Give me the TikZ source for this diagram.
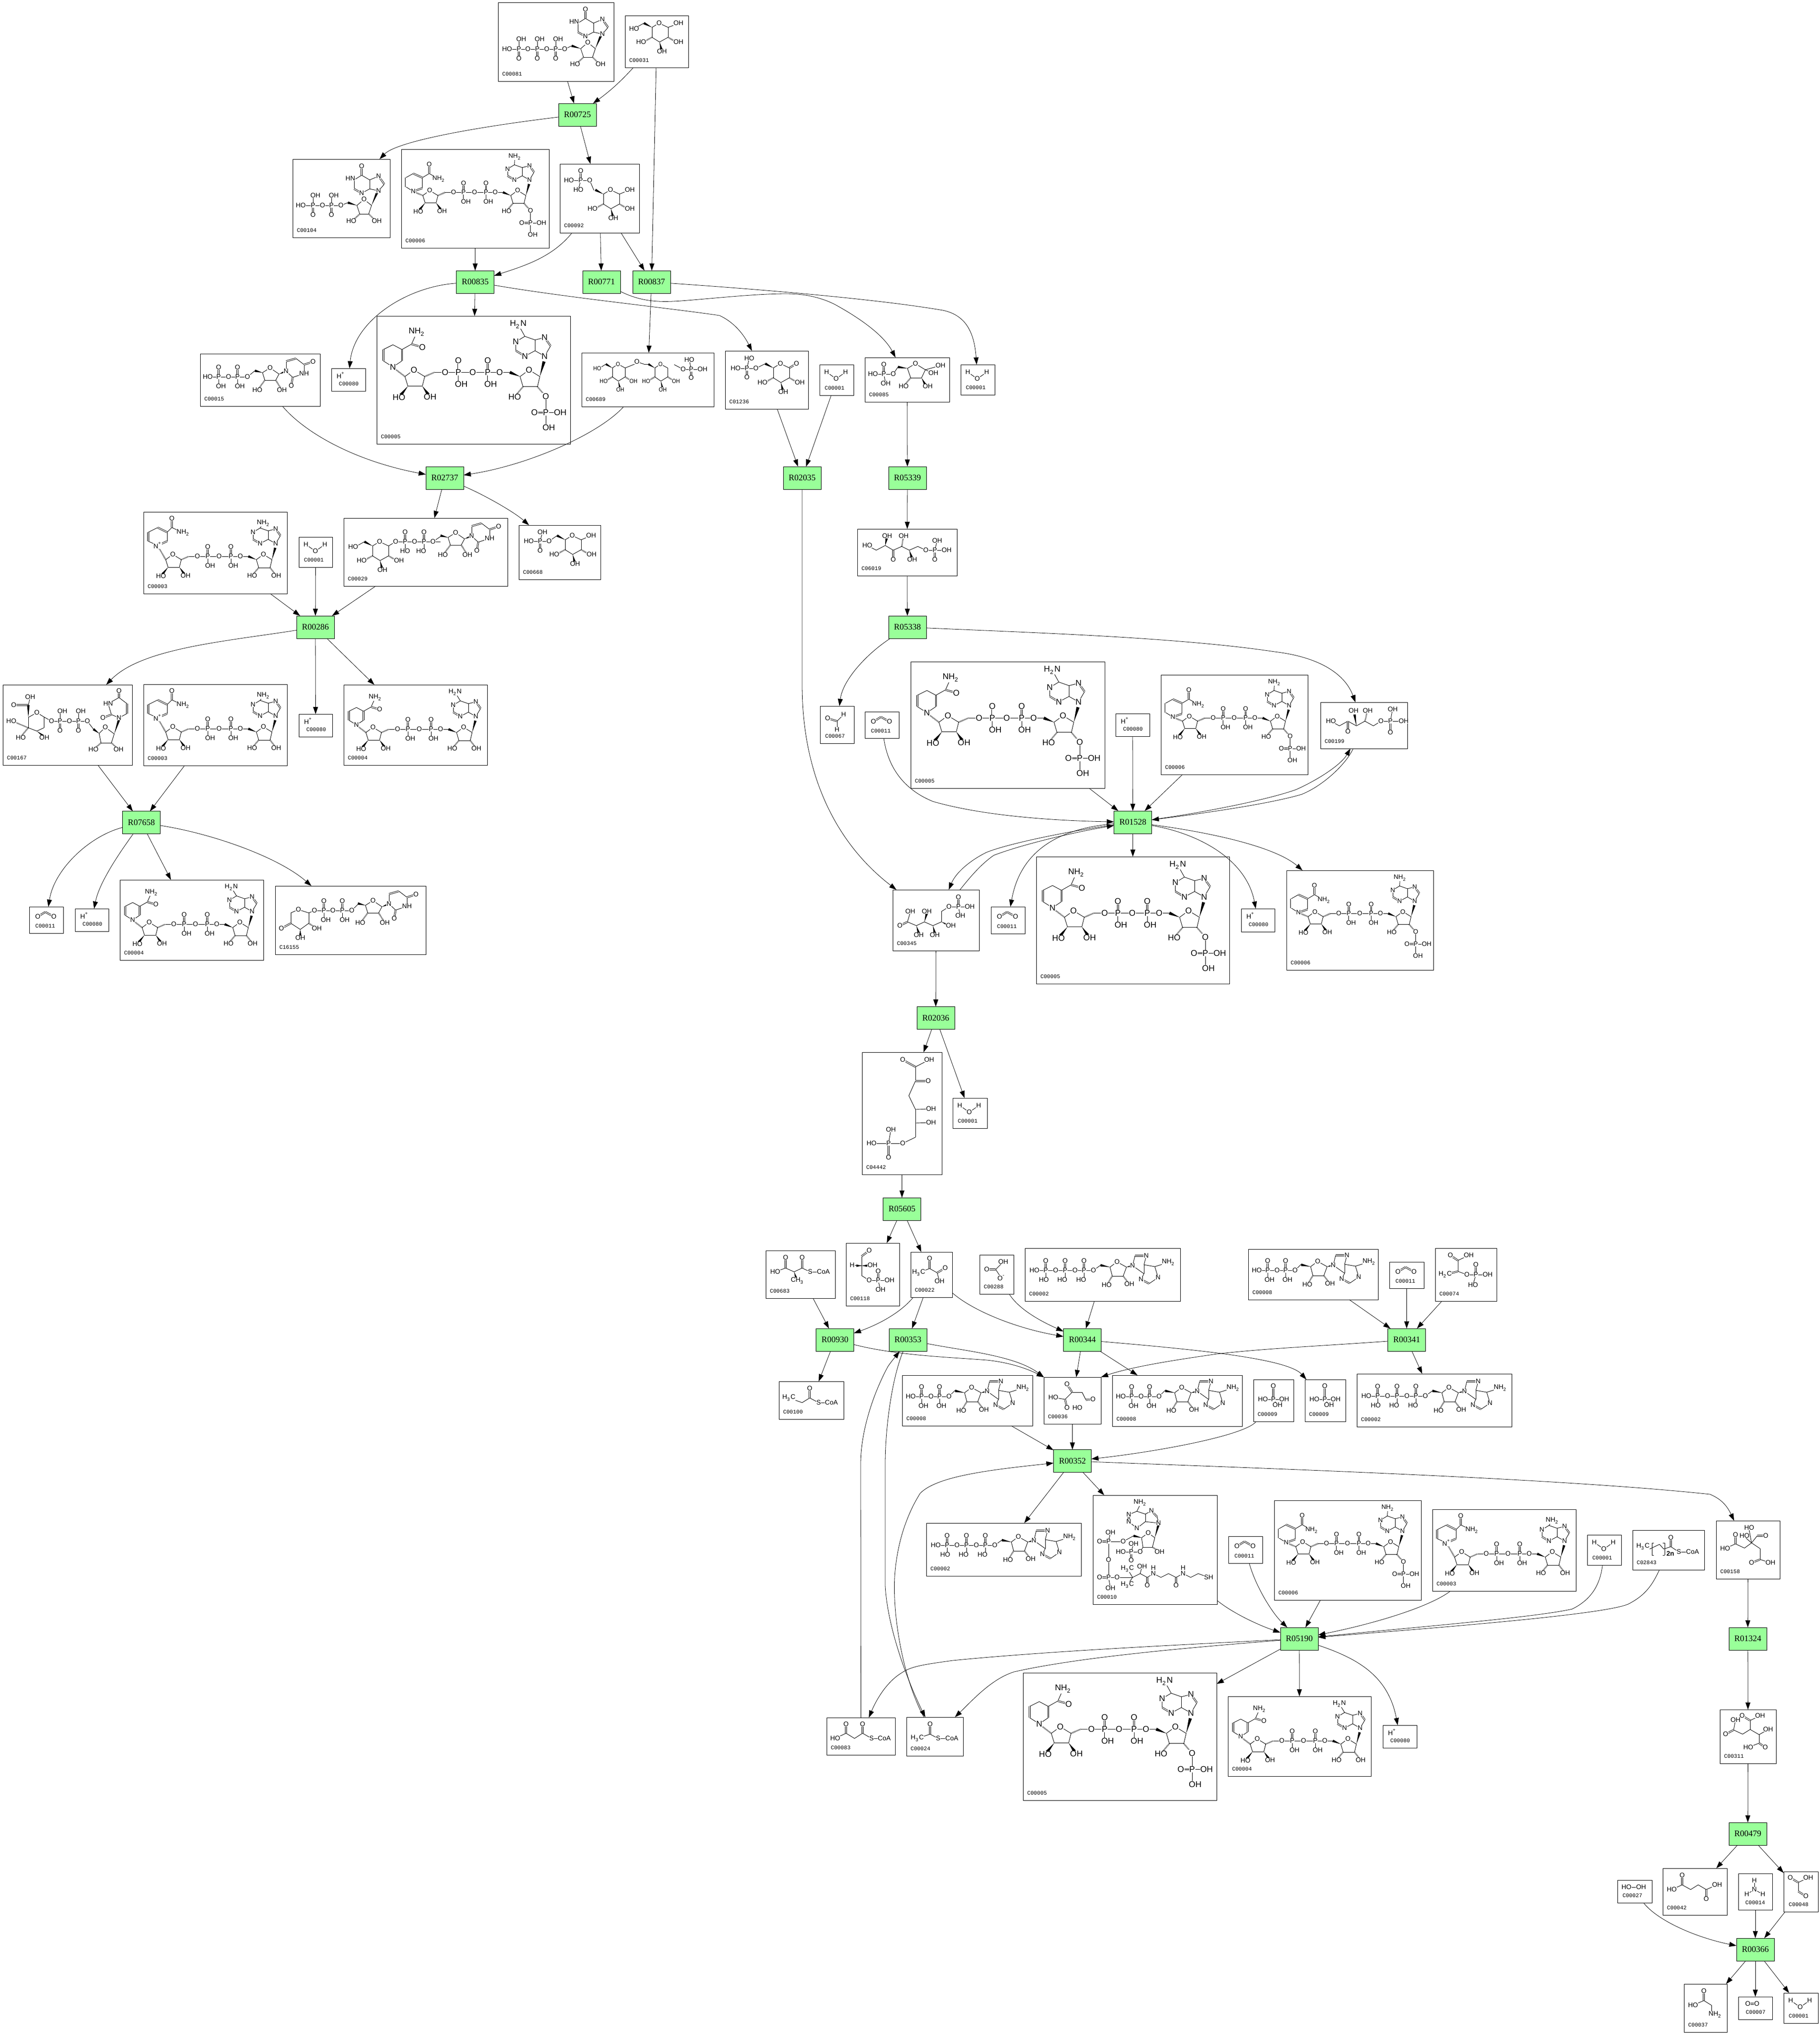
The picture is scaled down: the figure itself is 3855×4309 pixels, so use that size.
\documentclass[tikz,border=0pt]{standalone}
\usepackage{fontspec}
\setmainfont{Liberation Serif}
\setsansfont{Liberation Sans}
\setmonofont{Liberation Mono}
\usetikzlibrary{calc,arrows.meta}
\newcounter{atomn}
\tikzset{
 bondst/.style={line width=.23pt},
 atomst/.style={font=\sffamily\fontsize{3.5}{4}\selectfont,inner sep=.12pt,fill=white,transform shape},
 boxst/.style={draw=black,line width=.25pt,inner sep=0pt,outer sep=0pt},
 codest/.style={font=\ttfamily\fontsize{2.9}{3.2}\selectfont,inner sep=0pt,anchor=west},
 rxnst/.style={draw=black,fill=rxgreen,line width=.25pt,inner sep=0pt,outer sep=0pt,minimum width=20pt,minimum height=12pt,font=\rmfamily\fontsize{4.5}{5}\selectfont},
 edgest/.style={draw=black,line width=.2pt,-{Triangle[length=3.8pt,width=2.6pt]}}
}
\definecolor{rxgreen}{RGB}{153,255,153}
\newcommand\bnd[1]{\foreach \xa/\ya/\xb/\yb in {#1}{\draw[bondst] (\xa,\ya)--(\xb,\yb);}}
\newcommand\dbl[1]{\foreach \xa/\ya/\xb/\yb in {#1}{\draw[bondst,double,double distance=.42pt] (\xa,\ya)--(\xb,\yb);}}
\newcommand\wdg[1]{\foreach \xa/\ya/\xb/\yb in {#1}{\fill ($(\xb,\yb)!.65pt!90:(\xa,\ya)$) -- (\xa,\ya) -- ($(\xb,\yb)!.65pt!-90:(\xa,\ya)$) -- cycle;}}
\newcommand\hsh[1]{\foreach \xa/\ya/\xb/\yb in {#1}{\draw[bondst,line width=.7pt,dash pattern=on .2pt off .35pt] (\xa,\ya)--(\xb,\yb);}}
\newcommand\atm[1]{\foreach \xa/\ya/\tx in {#1}{\stepcounter{atomn}\node[atomst] (at\theatomn) at (\xa,\ya) {\tx};}}
\newcommand\NHb{NH\textsubscript{2}}
\newcommand\HbN{H\textsubscript{2}N}
\newcommand\HhC{H\textsubscript{3}C}
\newcommand\ChH{CH\textsubscript{3}}
% phosphate units
\newcommand\PA[4]{\begin{scope}[shift={(#1,#2)}]\dbl{0/0/0/-19}\bnd{0/0/0/19}\atm{0/0/P,0/-20/O,#4/20/#3}\end{scope}}
\newcommand\PB[2]{\begin{scope}[shift={(#1,#2)}]\dbl{0/0/0/19}\bnd{0/0/0/-19}\atm{0/0/P,0/20/O,5/-21/OH}\end{scope}}
% adenosine with base on the right, origin at ring O
\newcommand\adoR[2]{\begin{scope}[shift={(#1,#2)}]
\bnd{0/0/-15/11,-15/11/-10/30,-10/30/13/30,13/30/20/11,20/11/0/0,33/8/38/-13,62/-13/57/6,57/6/57/25,57/25/33/8,57/25/51/37,68/46/87/33,87/33/80/10,80/10/57/6,80/10/109/1}
\dbl{38/-13/62/-13,51/37/68/46}
\wdg{20/11/33/8,-15/11/-35/7}
\hsh{-10/30/-22/49,13/30/26/47}
\atm{0/0/O,33/8/N,62/-13/N,51/37/N,87/33/N,109/1/\NHb,-22/49/HO,26/47/OH}\end{scope}}
% inosine, base upward, origin at ring O
\newcommand\inoUp[2]{\begin{scope}[shift={(#1,#2)}]
\bnd{0/0/-15/13,-15/13/-9/31,-9/31/10/31,10/31/16/13,16/13/0/0,31/-18/12/-22,12/-22/12/-41,12/-41/-5/-51,-5/-51/-21/-41,-21/-41/-21/-22,-5/-13/12/-22,12/-41/31/-49,43/-32/31/-18}
\dbl{-5/-51/-5/-70,-21/-22/-5/-13,31/-49/43/-32}
\wdg{16/13/28/-15,-15/13/-34/7}
\hsh{-9/31/-25/46,10/31/25/46}
\atm{0/0/O,-5/-70/O,-29/-44/HN,-5/-13/N,31/-49/N,31/-18/N,-27/46/HO,27/46/OH}\end{scope}}
% uridine, origin at ring O
\newcommand\urid[2]{\begin{scope}[shift={(#1,#2)}]
\bnd{0/0/-16/10,-16/10/-11/26,-11/26/12/26,12/26/19/13,19/13/0/0,34/7/48/20,48/20/72/12,72/12/72/-7,72/-7/55/-20,34/-14/34/7}
\dbl{55/-20/34/-14,48/20/45/37,72/-7/91/-13}
\wdg{19/13/34/7,-16/10/-32/6}
\hsh{-11/26/-25/45,12/26/24/45}
\atm{0/0/O,34/7/N,72/12/NH,45/38/O,91/-13/O,-27/47/HO,25/47/OH}\end{scope}}
% pyranose, origin at ring O
\newcommand\pyrcore{\bnd{0/0/-15/9,-15/9/-15/30,-15/30/1/40,1/40/19/30,19/30/19/9,19/9/0/0}
\wdg{-15/9/-32/0,1/40/5/56}
\hsh{-15/30/-30/38,19/30/33/38}
\atm{0/0/O,-38/40/HO,6/60/OH,41/40/OH}}
% NAD core
\newcommand\nadcommon[3]{\bnd{47/101/62/90,62/90/80/101,80/101/76/117,76/117/52/117,52/117/47/101,96/94/205/94,205/94/222/94,239/101/254/90,254/90/272/101,272/101/268/118,268/118/244/118,244/118/239/101,280/67/290/50,280/36/264/40,264/40/264/58,264/58/280/67,264/58/247/67,232/58/232/43,232/43/247/34,247/34/264/40,247/34/#1/#2}
\dbl{290/50/280/36,247/67/232/58}
\wdg{272/101/279/76,239/101/222/94,52/117/40/132,76/117/86/131}
\hsh{80/101/96/94,244/118/232/132}
\PA{136}{94}{OH}{5}\PA{185}{94}{OH}{5}
\atm{62/90/O,254/90/O,37/136/HO,89/135/OH,114/94/O,160/94/O,205/94/O,230/135/HO,280/67/N,280/36/N,247/67/N,232/43/N,#1/#2/#3}}
\newcommand\ohB{\hsh{268/118/279/132}\atm{281/135/OH}}
\newcommand\phosB{\hsh{268/118/280/132}\bnd{282/134/282/185,282/161/306/161}\dbl{263/161/282/161}\atm{282/134/O,282/161/P,263/161/O,306/161/OH,287/186/OH}}
\newcommand\nicP{\bnd{10/43/30/33,50/43/50/62,30/71/10/62,50/43/60/33,60/33/84/44}\dbl{10/43/10/62,30/33/50/43,50/62/30/71,60/33/60/14}\hsh{47/101/32/75}\atm{30/71/N\textsuperscript{+},60/14/O,84/44/\NHb}}
\newcommand\nicH{\bnd{11/56/27/48,27/48/42/56,42/75/27/85,27/85/11/75,42/56/58/47,58/47/67/27}\dbl{11/56/11/75,42/56/42/75,58/47/76/52}\hsh{47/101/30/88}\atm{27/85/N,76/52/O,67/27/\NHb}}
\newcommand\nicB{\bnd{10/62/26/53,46/62/46/85,26/92/10/82,46/62/61/53,61/53/82/65}\dbl{10/62/10/82,26/53/46/62,46/85/26/92,61/53/61/33}\hsh{47/101/30/94}\atm{26/92/N,61/33/O,82/65/\NHb}}
\newcommand\mNADp{\nadcommon{254}{24}{\NHb}\ohB\nicP}
\newcommand\mNADH{\nadcommon{236}{16}{\HbN}\ohB\nicH}
\newcommand\mNADPH{\begin{scope}[scale=1.27]\nadcommon{236}{14}{\HbN}\phosB\nicH\end{scope}}
\newcommand\mNADPp{\begin{scope}[xscale=.97,yscale=.97]\nadcommon{248}{16}{\NHb}\phosB\nicB\end{scope}}
\newcommand\mATP{\bnd{20/47/145/47,145/47/160/36}\PA{44}{47}{HO}{-4}\PA{85}{47}{HO}{-6}\PA{125}{47}{HO}{-6}\atm{20/47/HO,65/47/O,106/47/O,145/47/O}\adoR{195}{29}}
\newcommand\mADP{\bnd{18/45/99/45,99/45/112/32}\PA{41}{45}{OH}{4}\PA{79}{45}{OH}{4}\atm{18/45/HO,61/45/O,99/45/O}\adoR{147}{26}}
\newcommand\mWater{\bnd{15/16/35/30,35/30/55/16}\atm{15/16/H,35/30/O,55/16/H}}
\newcommand\mHp{\atm{20/15/H\textsuperscript{+}}}
\newcommand\mCO{\dbl{18/21/34/11,34/11/52/21}\atm{18/21/O,52/21/O}}
\newcommand\mPi{\bnd{20/42/42/42,42/42/65/42,42/42/51/54}\dbl{42/14/42/42}\atm{42/14/O,42/42/P,20/42/HO,65/42/OH,51/54/OH}}
% composite box: name x1 y1 x2 y2 code xoff body
\newcommand\cb[8]{\node[boxst,minimum width={(#4-#2)*.25pt},minimum height={(#5-#3)*.25pt}] (#1) at ({(#2+#4)/2},{(#3+#5)/2}) {};
\begin{scope}[shift={(#1.north west)}]#8\end{scope}
\node[codest] (#1code) at (#2+#7,#5-15) {#6};}
\newcommand\rx[4]{\node[rxnst] (#1) at (#2,#3) {#4};}
\newcommand\eg[2]{\draw[edgest] (#1)--(#2);}
\begin{document}
\begin{tikzpicture}[x=.25pt,y=-.25pt]
\useasboundingbox (0,0) rectangle (3855,4309);
\fill[white] (0,0) rectangle (3855,4309);
% --- compounds
\cb{cA}{1055}{5}{1300}{172}{C00081}{8}{\bnd{19/99/141/99,141/99/156/92}\PB{44}{99}\PB{83}{99}\PB{122}{99}\atm{19/99/HO,63/99/O,103/99/O,141/99/O}\inoUp{190}{85}}
\cb{cB}{1324}{33}{1458}{143}{C00031}{8}{\begin{scope}[shift={(72,16)}]\bnd{19/9/38/2,-32/0/-50/10}\pyrcore\atm{-53/12/HO,41/0/OH}\end{scope}}
\cb{cC}{620}{337}{826}{503}{C00104}{8}{\bnd{17/98/102/98,102/98/117/92}\PB{43}{98}\PB{82}{98}\atm{17/98/HO,63/98/O,102/98/O}\inoUp{151}{85}}
\cb{cD}{850}{316}{1163}{525}{C00006}{8}{\mNADPp}
\cb{cE}{1186}{347}{1354}{493}{C00092}{8}{\bnd{63/35/72/56,19/35/63/35,39/55/44/35}\dbl{44/15/44/35}\atm{44/15/O,44/35/P,19/35/HO,63/35/O,39/55/HO}\begin{scope}[shift={(107,55)}]\bnd{19/9/36/2}\pyrcore\atm{41/0/OH}\end{scope}}
\cb{cF}{798}{669}{1208}{940}{C00005}{8}{\mNADPH}
\cb{cG}{702}{780}{774}{828}{C00080}{15}{\mHp}
\cb{cH}{424}{749}{678}{860}{C00015}{8}{\bnd{16/49/100/49,100/49/116/36}\PA{39}{49}{OH}{5}\PA{79}{49}{OH}{5}\atm{16/49/HO,60/49/O,100/49/O}\urid{148}{30}}
\cb{cI}{1232}{747}{1512}{861}{C00689}{8}{\begin{scope}[shift={(77,24)},xscale=.8,yscale=.9]\bnd{19/9/44/0}\pyrcore\bnd{-32/0/-50/10}\atm{-55/10/HO}\end{scope}\begin{scope}[shift={(167,24)},xscale=.8,yscale=.9]\bnd{-44/0/-32/0}\pyrcore\end{scope}\bnd{132/24/117/19,196/25/215/35,215/35/256/35,232/35/228/15}\dbl{232/35/232/53}\atm{117/19/O,215/35/O,232/35/P,228/15/HO,256/35/OH,232/53/O}}
\cb{cJ}{1536}{743}{1712}{866}{C01236}{8}{\begin{scope}[shift={(117,27)}]\dbl{19/9/34/0}\pyrcore\atm{34/0/O}\end{scope}\bnd{85/27/65/37,22/37/65/37,46/37/51/16}\dbl{46/37/46/56}\atm{46/37/P,22/37/HO,65/37/O,51/16/HO,46/56/O}}
\cb{cK}{1736}{772}{1808}{837}{C00001}{10}{\mWater}
\cb{cL}{1832}{757}{2011}{851}{C00085}{8}{\bnd{107/13/128/26,128/26/120/43,120/43/97/43,97/43/90/23,90/23/107/13,70/20/60/35,60/35/17/35,40/35/44/55,128/26/145/33,128/26/160/17}\dbl{40/15/40/35}\wdg{90/23/70/20,120/43/128/58}\hsh{97/43/84/58}\atm{107/13/O,60/35/O,40/35/P,17/35/HO,40/15/O,44/55/OH,82/61/HO,133/61/OH,145/33/OH,160/17/OH}}
\cb{cM}{2035}{772}{2107}{836}{C00001}{10}{\mWater}
\cb{cN}{304}{1084}{608}{1257}{C00003}{8}{\mNADp}
\cb{cO}{633}{1137}{704}{1201}{C00001}{10}{\mWater}
\cb{cP}{728}{1097}{1075}{1241}{C00029}{8}{\begin{scope}[shift={(76,50)}]\bnd{19/9/34/0,-32/0/-50/10}\pyrcore\atm{-56/11/HO}\end{scope}\bnd{110/50/205/50,189/50/205/39}\PA{130}{50}{HO}{0}\PA{170}{50}{HO}{-6}\atm{110/50/O,150/50/O,189/50/O}\urid{237}{31}}
\cb{cQ}{1099}{1112}{1272}{1227}{C00668}{8}{\begin{scope}[shift={(113,22)}]\bnd{19/9/40/0}\pyrcore\atm{40/0/OH}\end{scope}\bnd{81/22/64/34,21/34/64/34,45/34/50/15}\dbl{45/34/45/54}\atm{45/34/P,21/34/HO,64/34/O,50/15/OH,45/54/O}}
\cb{cR}{1816}{1120}{2027}{1219}{C06019}{8}{\bnd{21/35/40/45,40/45/59/35,59/35/76/45,76/45/94/37,94/37/110/45,110/45/128/37,128/37/145/45,145/45/189/45,164/45/169/25}\dbl{76/45/76/65,164/45/164/65}\wdg{59/35/62/20,110/45/115/60}\hsh{94/37/97/20}\atm{21/35/HO,63/15/OH,76/65/O,98/15/OH,116/65/OH,145/45/O,164/45/P,169/25/OH,189/45/OH,164/65/O}}
\cb{cS}{6}{1450}{280}{1620}{C00167}{8}{\bnd{72/59/54/69,54/69/54/91,54/91/72/98,72/98/87/91,87/91/87/68,87/68/72/59,54/43/58/26,103/77/87/68,103/77/179/77,179/77/192/94}\dbl{54/43/23/43}\wdg{54/69/54/43,204/103/192/94,72/98/88/110}\hsh{54/91/38/110,54/91/20/77}\PB{121}{77}\PB{160}{77}\atm{72/59/O,23/43/O,58/26/OH,18/77/HO,38/112/HO,88/112/OH,103/77/O,141/77/O,179/77/O}\bnd{217/90/204/103,204/103/208/123,208/123/230/123,230/123/236/104,236/104/217/90,246/70/230/63,230/63/223/40,223/40/246/27,246/27/263/40,263/61/246/70}\dbl{230/63/212/70,246/27/246/13,263/40/263/61}\wdg{236/104/246/74}\hsh{208/123/194/135,230/123/243/135}\atm{217/90/O,192/137/HO,245/137/OH,246/70/N,212/70/O,223/40/HN,246/13/O}}
\cb{cT}{304}{1449}{608}{1621}{C00003}{8}{\mNADp}
\cb{cU}{633}{1512}{704}{1560}{C00080}{15}{\mHp}
\cb{cV}{728}{1450}{1032}{1620}{C00004}{8}{\mNADH}
\cb{cW}{62}{1920}{134}{1976}{C00011}{12}{\mCO}
\cb{cX}{159}{1924}{230}{1972}{C00080}{15}{\mHp}
\cb{cY}{254}{1863}{558}{2033}{C00004}{8}{\mNADH}
\cb{cZ}{583}{1876}{902}{2021}{C16155}{8}{\bnd{49/50/33/57,33/57/33/79,33/79/53/92,53/92/71/79,71/79/71/57,71/57/49/50,71/57/83/52,83/52/162/52,162/52/176/38}\dbl{33/79/13/90}\wdg{53/92/53/106}\hsh{71/79/85/88}\PA{103}{52}{OH}{4}\PA{142}{52}{OH}{5}\atm{49/50/O,13/90/O,53/110/OH,88/90/OH,83/52/O,122/52/O,162/52/O}\urid{207}{31}}
\cb{cAa}{1737}{1495}{1809}{1574}{C00067}{10}{\dbl{16/26/36/32}\bnd{36/32/50/18,36/32/36/50}\atm{16/26/O,50/18/H,36/50/H}}
\cb{cAb}{1832}{1507}{1904}{1563}{C00011}{12}{\mCO}
\cb{cAc}{1929}{1401}{2340}{1669}{C00005}{8}{\mNADPH}
\cb{cAd}{2363}{1511}{2435}{1559}{C00080}{15}{\mHp}
\cb{cAe}{2459}{1429}{2770}{1640}{C00006}{8}{\mNADPp}
\cb{cAf}{2797}{1487}{2981}{1585}{C00199}{8}{\bnd{22/40/40/50,40/50/58/40,58/40/76/50,76/50/94/40,94/40/112/50,112/50/128/40,128/40/176/40,148/40/152/18}\dbl{58/40/58/62,148/40/148/62}\wdg{76/50/72/26}\hsh{94/40/98/24}\atm{22/40/HO,58/62/O,70/18/OH,100/18/OH,128/40/O,148/40/P,153/15/OH,176/40/OH,148/64/O}}
\cb{cAg}{1891}{1884}{2074}{2013}{C00345}{8}{\bnd{31/68/37/48,31/68/50/76,50/76/67/68,67/68/85/76,85/76/103/68,103/68/103/46,103/46/119/36,119/36/163/36,139/36/143/55}\dbl{31/68/15/76,139/36/139/16}\wdg{50/76/55/92,67/68/72/50,85/76/89/92,103/68/120/76}\atm{15/76/O,37/46/OH,55/96/OH,72/46/OH,89/96/OH,123/76/OH,119/36/O,139/36/P,139/16/O,163/36/OH,143/55/OH}}
\cb{cAh}{2099}{1920}{2171}{1977}{C00011}{12}{\mCO}
\cb{cAi}{2195}{1814}{2604}{2083}{C00005}{8}{\mNADPH}
\cb{cAj}{2629}{1924}{2700}{1973}{C00080}{15}{\mHp}
\cb{cAk}{2725}{1843}{3036}{2054}{C00006}{8}{\mNADPp}
\cb{cAl}{1826}{2228}{1995}{2487}{C04442}{8}{\bnd{113/31/142/16,113/31/113/61,113/61/99/92,99/92/113/121,113/121/146/120,113/121/113/180,113/150/146/149,113/180/86/193,86/193/20/193,56/193/61/164}\dbl{113/31/86/16,113/61/140/61,56/193/56/223}\atm{86/16/O,142/16/OH,140/61/O,146/120/OH,146/149/OH,86/193/O,56/193/P,61/164/OH,20/193/HO,56/223/O}}
\cb{cAm}{2018}{2325}{2091}{2389}{C00001}{10}{\mWater}
\cb{cAn}{1622}{2648}{1769}{2749}{C00683}{8}{\bnd{42/37/20/45,42/37/60/45,60/45/77/37,77/37/94/45,94/45/121/45}\dbl{42/37/42/15,77/37/77/15}\wdg{60/45/65/60}\atm{42/15/O,20/45/HO,77/15/O,94/45/S,122/45/CoA,67/64/\ChH}}
\cb{cAo}{1792}{2632}{1905}{2765}{C00118}{8}{\bnd{33/28/33/69,13/47/33/48,33/69/49/79,49/79/92/79,68/79/73/99}\dbl{33/28/49/16,68/79/68/60}\wdg{33/48/22/48,33/48/46/48}\atm{49/16/O,13/47/H,56/47/OH,49/79/O,68/79/P,68/60/O,92/79/OH,73/99/OH}}
\cb{cAp}{1929}{2651}{2017}{2747}{C00022}{8}{\bnd{40/35/17/44,40/35/56/44,56/44/61/62}\dbl{40/14/40/35,56/44/73/34}\atm{40/14/O,17/44/\HhC,73/34/O,61/62/OH}}
\cb{cAq}{2075}{2657}{2147}{2740}{C00288}{8}{\bnd{34/31/50/15,34/31/46/49}\dbl{15/31/34/31}\atm{15/31/O,50/15/OH,46/49/O\textsuperscript{-}}}
\cb{cAr}{2171}{2643}{2500}{2755}{C00002}{8}{\mATP}
\cb{cAs}{2644}{2645}{2919}{2752}{C00008}{8}{\mADP}
\cb{cAt}{2943}{2672}{3016}{2728}{C00011}{12}{\mCO}
\cb{cAu}{3040}{2643}{3170}{2755}{C00074}{8}{\bnd{48/26/71/15,48/49/67/56,67/56/111/56,86/56/80/78}\dbl{48/26/32/15,48/49/21/56,86/56/86/35}\bnd{48/26/48/49}\atm{32/15/O,71/15/OH,21/56/H\textsubscript{2}C,67/56/O,86/56/P,86/35/O,111/56/OH,80/78/HO}}
\cb{cAv}{1650}{2925}{1787}{3005}{C00100}{8}{\bnd{21/35/49/45,49/45/65/35,65/35/84/45,84/45/111/45}\dbl{65/35/65/15}\atm{21/35/\HhC,65/15/O,84/45/S,111/45/CoA}}
\cb{cAw}{1911}{2912}{2187}{3019}{C00008}{8}{\mADP}
\cb{cAx}{2211}{2916}{2332}{3015}{C00036}{8}{\bnd{60/32/45/47,45/47/20/43,60/32/81/32,81/32/89/48}\dbl{60/32/49/15,45/47/49/65,89/48/104/47}\atm{49/15/O,20/43/HO,49/65/O,71/65/HO,104/47/O}}
\cb{cAy}{2356}{2912}{2631}{3020}{C00008}{8}{\mADP}
\cb{cAz}{2655}{2921}{2740}{3010}{C00009}{8}{\mPi}
\cb{cBa}{2764}{2921}{2850}{3010}{C00009}{8}{\mPi}
\cb{cBb}{2874}{2909}{3202}{3021}{C00002}{8}{\mATP}
\cb{cBc}{1962}{3225}{2290}{3337}{C00002}{8}{\mATP}
\cb{cBd}{2315}{3166}{2578}{3397}{C00010}{8}{\bnd{100/20/93/34,93/34/76/41,76/56/93/70,93/70/111/56,111/56/111/40,111/40/93/34,111/40/124/33,136/46/139/59,139/59/111/56,117/80/103/90,103/90/106/110,106/110/126/110,126/110/131/90,131/90/117/80,86/86/64/98,64/98/33/98,33/98/33/174,33/98/37/79,33/174/37/197,33/174/84/174,84/174/73/156,84/174/73/190,84/174/100/166,100/166/104/151,100/166/115/174,115/174/128/166,128/166/144/174,144/174/160/166,160/166/176/174,176/174/191/166,191/166/207/174,207/174/223/166,223/166/245/174,106/110/100/120,100/120/59/120,81/120/86/103}\dbl{76/41/76/56,124/33/136/46,14/98/33/98,14/174/33/174,115/174/115/191,176/174/176/191,81/120/81/138}\wdg{131/90/139/62,103/90/86/86}\hsh{126/110/139/118}\atm{100/16/\NHb,76/41/N,76/56/N,93/70/N,124/33/N,139/59/N,117/80/O,141/120/OH,100/120/O,81/120/P,59/120/HO,86/103/OH,81/138/O,64/98/O,33/98/P,37/79/OH,14/98/O,33/137/O,33/174/P,14/174/O,37/197/OH,51/174/O,73/156/\HhC,73/190/\HhC,104/151/OH,115/191/O,128/166/N,128/154/H,176/191/O,191/166/N,191/154/H,245/174/SH}}
\cb{cBe}{2602}{3253}{2674}{3310}{C00011}{12}{\mCO}
\cb{cBf}{2699}{3177}{3010}{3388}{C00006}{8}{\mNADPp}
\cb{cBg}{3034}{3196}{3338}{3369}{C00003}{8}{\mNADp}
\cb{cBh}{3362}{3250}{3434}{3314}{C00001}{10}{\mWater}
\cb{cBi}{3458}{3240}{3610}{3324}{C02843}{8}{\bnd{22/35/36/40,36/40/57/30,57/30/66/40,66/40/81/35,81/35/98/46,98/46/127/46,45/27/41/27,41/27/41/53,41/53/45/53,64/27/68/27,68/27/68/53,68/53/64/53}\dbl{81/35/81/16}\atm{22/35/\HhC,81/16/O,98/46/S,127/46/CoA}\node[atomst,font=\sffamily\bfseries\fontsize{3.5}{4}\selectfont] (atwon) at (80,50) {2n};}
\cb{cBj}{3635}{3220}{3770}{3343}{C00158}{8}{\bnd{75/47/70/20,75/47/87/32,75/47/60/58,60/58/41/49,41/49/19/59,75/47/93/59,93/59/93/82,93/82/115/89,75/47/60/34}\dbl{41/49/41/30,87/32/105/32,93/82/75/89}\atm{70/15/HO,60/32/HO,105/32/O,41/30/O,19/59/HO,75/89/O,115/89/OH}}
\cb{cBk}{1751}{3637}{1896}{3716}{C00083}{8}{\bnd{41/33/18/44,41/33/59/44,59/44/76/33,76/33/95/44,95/44/122/44}\dbl{41/33/41/14,76/33/76/14}\atm{41/14/O,18/44/HO,76/14/O,95/44/S,122/44/CoA}}
\cb{cBl}{1920}{3636}{2040}{3718}{C00024}{8}{\bnd{50/36/23/45,50/36/67/45,67/45/96/45}\dbl{50/36/50/15}\atm{50/15/O,23/45/\HhC,67/45/S,96/45/CoA}}
\cb{cBm}{2167}{3542}{2577}{3812}{C00005}{8}{\mNADPH}
\cb{cBn}{2601}{3592}{2904}{3761}{C00004}{8}{\mNADH}
\cb{cBo}{2929}{3653}{3001}{3701}{C00080}{15}{\mHp}
\cb{cBp}{3643}{3620}{3762}{3734}{C00311}{8}{\bnd{64/23/85/13,64/23/64/42,64/42/48/52,48/52/29/43,29/43/33/22,64/42/83/53,83/53/102/42,83/53/83/71,83/71/60/80}\dbl{64/23/47/13,29/43/12/52,83/71/96/80}\atm{47/13/O,85/13/OH,33/22/OH,12/52/O,102/42/OH,60/80/HO,96/80/O}}
\cb{cBq}{3426}{3981}{3499}{4029}{C00027}{10}{\bnd{19/15/50/15}\atm{19/15/HO,50/15/OH}}
\cb{cBr}{3522}{3956}{3658}{4055}{C00042}{8}{\bnd{19/45/41/35,41/35/59/45,59/45/75/35,75/35/92/45,92/45/115/35}\dbl{41/35/41/15,92/45/92/65}\atm{19/45/HO,41/15/O,115/35/OH,92/65/O}}
\cb{cBs}{3682}{3967}{3754}{4044}{C00014}{14}{\bnd{34/15/34/34,34/34/18/44,34/34/52/44}\atm{34/15/H,34/34/N,18/44/H,52/44/H}}
\cb{cBt}{3778}{3963}{3851}{4048}{C00048}{10}{\bnd{31/23/52/13,31/23/31/42}\dbl{14/13/31/23,31/42/47/52}\atm{14/13/O,52/13/OH,47/52/O}}
\cb{cBu}{3567}{4201}{3658}{4303}{C00037}{8}{\bnd{42/35/19/45,42/35/58/45,58/45/58/60}\dbl{42/35/42/15}\atm{42/15/O,19/45/HO,66/65/\NHb}}
\cb{cBv}{3682}{4228}{3754}{4276}{C00007}{15}{\dbl{20/15/39/15}\atm{20/15/O,39/15/O}}
\cb{cBw}{3778}{4220}{3851}{4284}{C00001}{10}{\mWater}
% --- reactions
\rx{r725}{1223}{243}{R00725}
\rx{r835}{1006.5}{597}{R00835}
\rx{r771}{1274}{597}{R00771}
\rx{r837}{1380}{597}{R00837}
\rx{r2737}{942}{1012}{R02737}
\rx{r2035}{1699}{1012}{R02035}
\rx{r5339}{1922}{1012}{R05339}
\rx{r5338}{1922}{1328}{R05338}
\rx{r286}{668}{1328}{R00286}
\rx{r7658}{299.5}{1741.7}{R07658}
\rx{r1528}{2399.5}{1741}{R01528}
\rx{r2036}{1982}{2155.5}{R02036}
\rx{r5605}{1910.5}{2560}{R05605}
\rx{r930}{1768.5}{2837}{R00930}
\rx{r353}{1923}{2837}{R00353}
\rx{r344}{2292.5}{2837}{R00344}
\rx{r341}{2979.5}{2837}{R00341}
\rx{r352}{2271.5}{3093.6}{R00352}
\rx{r5190}{2752}{3470}{R05190}
\rx{r1324}{3702}{3470}{R01324}
\rx{r479}{3702}{3883}{R00479}
\rx{r366}{3718}{4128}{R00366}
% --- connectors
\eg{cA}{r725}
\draw[edgest] (cB) .. controls (1310,178) and (1285,198) .. (r725);
\draw[edgest] (r725) .. controls (1000,270) and (840,300) .. (cC);
\eg{r725}{cE}
\eg{cB}{r837}
\eg{cD}{r835}
\draw[edgest] (cE) .. controls (1170,545) and (1110,563) .. (r835);
\eg{cE}{r771}
\eg{cE}{r837}
\eg{r835}{cF}
\draw[edgest] (r835) .. controls (860,607) and (750,680) .. (cG);
\draw[edgest] (r835) .. controls (1200,630) and (1400,650) .. (1524,668) .. controls (1550,680) and (1572,702) .. (cJ);
\draw[edgest] (r771) .. controls (1360,640) and (1400,640) .. (1443,637) .. controls (1510,632) and (1600,622) .. (1665,622) .. controls (1705,622) and (1740,630) .. (1769,645) .. controls (1800,662) and (1868,702) .. (cL);
\draw[edgest] (r837) .. controls (1600,612) and (1850,632) .. (1997,657) .. controls (2050,668) and (2064,710) .. (cM);
\eg{r837}{cI}
\draw[edgest] (cH) .. controls (650,921) and (760,978) .. (r2737);
\draw[edgest] (cI) .. controls (1270,918) and (1120,985) .. (r2737);
\eg{r2737}{cP}
\draw[edgest] (r2737) .. controls (1030,1050) and (1090,1085) .. (cQ);
\eg{cJ}{r2035}
\eg{cK}{r2035}
\eg{cL}{r5339}
\eg{r5339}{cR}
\eg{cR}{r5338}
\draw[edgest] (r5338) .. controls (1835,1385) and (1785,1440) .. (cAa);
\draw[edgest] (r5338) .. controls (2200,1340) and (2500,1350) .. (2700,1380) .. controls (2800,1392) and (2850,1430) .. (cAf);
\eg{cN}{r286}
\eg{cO}{r286}
\eg{cP}{r286}
\draw[edgest] (r286) .. controls (480,1358) and (300,1372) .. (cS);
\eg{r286}{cU}
\eg{r286}{cV}
\eg{cS}{r7658}
\eg{cT}{r7658}
\draw[edgest] (r7658) .. controls (190,1770) and (115,1840) .. (cW);
\draw[edgest] (r7658) .. controls (250,1810) and (210,1870) .. (cX);
\eg{r7658}{cY}
\draw[edgest] (r7658) .. controls (450,1765) and (590,1815) .. (cZ);
\draw[edgest] (cAb) .. controls (1880,1620) and (1910,1670) .. (1976,1697) .. controls (2090,1730) and (2250,1738) .. (r1528);
\eg{cAc}{r1528}
\eg{cAd}{r1528}
\eg{cAe}{r1528}
\draw[edgest] (r1528) .. controls (2540,1722) and (2680,1695) .. (2745,1672) .. controls (2790,1652) and (2840,1620) .. (cAf);
\draw[edgest] (cAf) .. controls (2850,1620) and (2800,1665) .. (2757,1682) .. controls (2690,1702) and (2550,1722) .. (r1528);
\eg{r1528}{cAi}
\draw[edgest] (r1528) .. controls (2230,1755) and (2160,1810) .. (cAh);
\draw[edgest] (r1528) .. controls (2250,1762) and (2130,1788) .. (2089,1805) .. controls (2055,1822) and (2025,1847) .. (cAg);
\draw[edgest] (cAg) .. controls (2065,1844) and (2085,1825) .. (2105,1811) .. controls (2160,1790) and (2260,1765) .. (r1528);
\draw[edgest] (r1528) .. controls (2540,1765) and (2640,1820) .. (cAj);
\draw[edgest] (r1528) .. controls (2560,1762) and (2700,1792) .. (cAk);
\draw[edgest] (r2035) -- (1699,1450) .. controls (1699,1640) and (1770,1785) .. (cAg);
\eg{cAg}{r2036}
\eg{r2036}{cAl}
\eg{r2036}{cAm}
\eg{cAl}{r5605}
\eg{r5605}{cAo}
\eg{r5605}{cAp}
\eg{cAn}{r930}
\draw[edgest] (cAp) .. controls (1910,2777) and (1865,2803) .. (r930);
\eg{cAp}{r353}
\draw[edgest] (cAp) .. controls (2060,2775) and (2150,2812) .. (r344);
\draw[edgest] (cAq) .. controls (2160,2775) and (2210,2800) .. (r344);
\eg{cAr}{r344}
\eg{r930}{cAv}
\draw[edgest] (r930) .. controls (1900,2870) and (2000,2873) .. (2091,2880) .. controls (2130,2884) and (2170,2895) .. (cAx.north west);
\draw[edgest] (r353) .. controls (2040,2860) and (2150,2870) .. (cAx.north west);
\eg{r344}{cAx}
\eg{r344}{cAy}
\draw[edgest] (r344) .. controls (2500,2855) and (2725,2874) .. (cBa);
\draw[edgest] (r341) .. controls (2800,2850) and (2680,2855) .. (2577,2867) .. controls (2500,2878) and (2400,2893) .. (cAx.north east);
\eg{cAs}{r341}
\eg{cAt}{r341}
\eg{cAu}{r341}
\eg{r341}{cBb}
\eg{cAw}{r352}
\eg{cAx}{r352}
\draw[edgest] (cAz) .. controls (2636,3040) and (2450,3074) .. (r352);
\eg{r352}{cBc}
\eg{r352}{cBd}
\draw[edgest] (r352) .. controls (2700,3110) and (3300,3130) .. (3622,3164) .. controls (3640,3172) and (3655,3182) .. (cBj);
\draw[edgest] (cBk) -- (1823,3100) .. controls (1823,3030) and (1850,2950) .. (1881,2893) .. controls (1890,2880) and (1895,2875) .. (r353);
\draw[edgest] (r353) .. controls (1890,2916) and (1875,3020) .. (1875,3100) -- (1875,3358) .. controls (1880,3450) and (1925,3565) .. (cBl);
\draw[edgest] (cBl) .. controls (1920,3570) and (1890,3440) .. (1895,3339) .. controls (1900,3260) and (1925,3200) .. (1949,3162) .. controls (1985,3125) and (2100,3112) .. (r352);
\draw[edgest] (r5190) .. controls (2450,3485) and (2200,3498) .. (2018,3516) .. controls (1960,3524) and (1930,3528) .. (1910,3542) .. controls (1880,3560) and (1858,3595) .. (cBk);
\draw[edgest] (r5190) .. controls (2500,3490) and (2280,3510) .. (2148,3540) .. controls (2100,3555) and (2060,3600) .. (cBl);
\eg{r5190}{cBm}
\eg{r5190}{cBn}
\draw[edgest] (r5190) .. controls (2870,3510) and (2940,3545) .. (cBo);
\eg{cBf}{r5190}
\draw[edgest] (cBe) .. controls (2660,3360) and (2695,3416) .. (r5190);
\draw[edgest] (cBd) .. controls (2610,3415) and (2665,3441) .. (r5190);
\draw[edgest] (cBg) .. controls (3030,3401) and (2920,3436) .. (r5190);
\draw[edgest] (cBh) .. controls (3390,3350) and (3375,3385) .. (3330,3407) .. controls (3250,3425) and (3000,3445) .. (r5190);
\draw[edgest] (cBi) .. controls (3497,3363) and (3480,3380) .. (3450,3396) .. controls (3400,3420) and (3000,3450) .. (r5190);
\eg{cBj}{r1324}
\eg{r1324}{cBp}
\eg{cBp}{r479}
\eg{r479}{cBr}
\eg{r479}{cBt}
\eg{cBs}{r366}
\eg{cBt}{r366}
\draw[edgest] (cBq) .. controls (3510,4066) and (3590,4102) .. (r366);
\eg{r366}{cBu}
\eg{r366}{cBv}
\eg{r366}{cBw}
\end{tikzpicture}
\end{document}
